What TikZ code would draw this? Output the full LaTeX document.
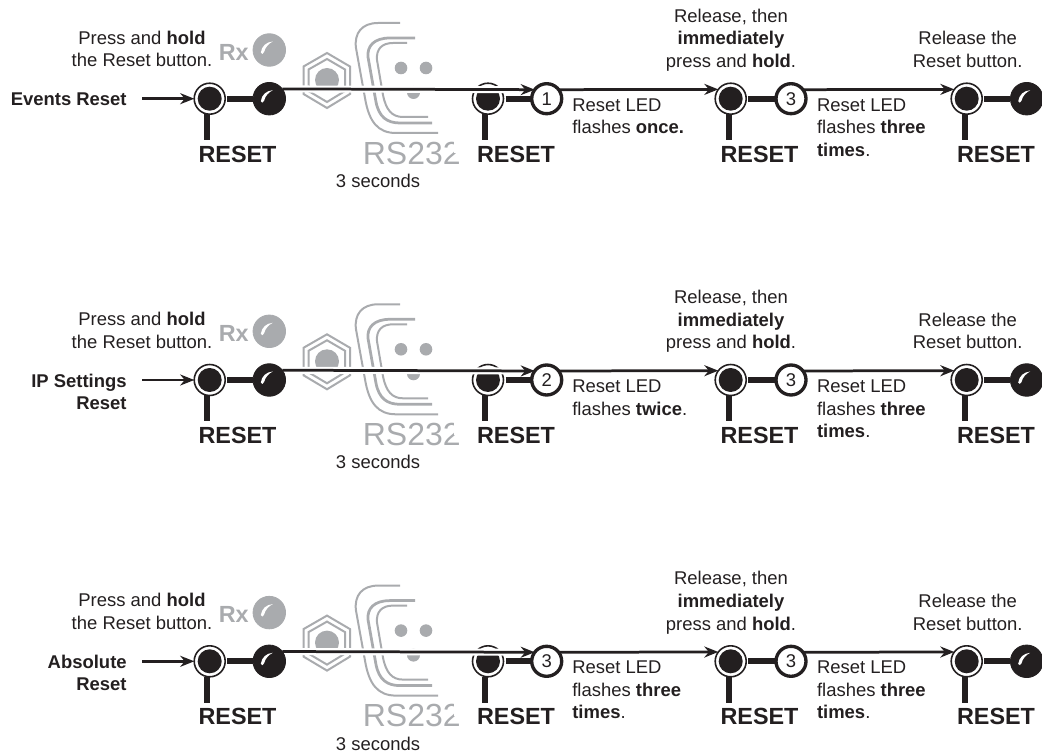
\documentclass[tikz,border=0pt]{standalone}
\usepackage{fontspec}
\setmainfont{Liberation Sans}
\usetikzlibrary{arrows.meta}
\definecolor{ink}{HTML}{231F20}
\definecolor{panelgrey}{HTML}{A9ABAE}
\tikzstyle{note}=[font=\fontsize{10.5}{12.9}\selectfont,text=ink,inner sep=0pt,align=center]
\tikzstyle{flash}=[note,align=left,anchor=north west]
\tikzstyle{mode}=[note,align=right,anchor=north east,font=\fontsize{10.5}{12.9}\selectfont\bfseries]
\tikzstyle{capt}=[font=\fontsize{13.3}{15}\selectfont\bfseries,text=ink,inner sep=0pt]
\tikzstyle{btn}=[circle,draw=ink,line width=0.9pt,fill=white,minimum size=0.62cm,inner sep=0pt,outer sep=0pt,
  path picture={\fill[ink] (path picture bounding box.center) circle (0.24cm);}]
\tikzstyle{lamp}=[circle,fill=#1,draw=#1,line width=0.5pt,minimum size=0.65cm,inner sep=0pt,outer sep=0pt,
  path picture={\fill[white,shift={(path picture bounding box.center)}] (-8.5,2.5) .. controls (-7.5,-4) and (-3,-8) .. (3.5,-8.5) .. controls (-0.5,-6.5) and (-4,-3) .. (-5.2,2) .. controls (-5.6,4.5) and (-8.2,4.5) .. (-8.5,2.5) -- cycle;}]
\tikzstyle{numb}=[circle,draw=ink,line width=1.9pt,fill=white,minimum size=0.6cm,inner sep=0pt,outer sep=0pt,
  font=\fontsize{10.5}{12.9}\selectfont,text=ink]
\tikzstyle{wire}=[ink,line width=0.12cm,shorten <=1.2pt]
\tikzstyle{flow}=[ink,line width=0.055cm,-{Stealth[length=0.28cm,width=0.22cm]}]
\tikzstyle{halo}=[white,line width=0.14cm,shorten <=4pt,shorten >=4pt]
\tikzstyle{faint}=[panelgrey,line width=0.04cm]
\newcommand{\rsplate}{
\fill[panelgrey] (327,80) circle (12);
\draw[faint] (327,53)--(350,66.5)--(350,94)--(327,108)--(303.5,94)--(303.5,66.5)--cycle;
\draw[faint] (327,59)--(345,69.5)--(345,91)--(327,102)--(308.5,91)--(308.5,69.5)--cycle;
\draw[faint] (400,23)--(378,23) .. controls (362,23) and (354,33) .. (356,48)--(365,98) .. controls (369,122) and (378,133) .. (396,133)--(438,133);
\draw[faint,line width=0.055cm] (415,38)--(390,38) .. controls (374,38) and (367,46) .. (368,57)--(376,102) .. controls (379,117) and (387,123) .. (400,123)--(432,123);
\draw[faint] (407,43)--(393,43) .. controls (382,43) and (376,49) .. (377,60)--(383,95) .. controls (386,110) and (392,117) .. (403,117)--(428,117);
\fill[panelgrey] (401,68) circle (6.3);
\fill[panelgrey] (426,68) circle (6.3);
\fill[panelgrey] (413.5,92.5) circle (6.5);
\begin{scope}
\clip (360,135)--(453,135)--(453,153)--(462,153)--(459,172)--(360,172)--cycle;
\node[font=\fontsize{18.2}{20}\selectfont,text=panelgrey,inner sep=0pt,anchor=west] (RS) at (362.5,153) {RS232};
\end{scope}
}

\begin{document}
\begin{tikzpicture}[x=0.02cm,y=-0.02cm]
\useasboundingbox (0,0) rectangle (1042,753);
% first row
\begin{scope}
\rsplate
\node[note] (Epress) at (142,49) {Press and \textbf{hold}\\the Reset button.};
\node[capt,text=panelgrey] (Erx) at (233.7,52) {Rx};
\node[lamp=panelgrey] (Egl) at (269.3,50) {};
\node[mode] (Emode) at (127,92) {Events Reset};
\coordinate (Ein) at (142,98.7);
\node[btn] (Eb1) at (209.7,98.7) {};
\node[lamp=ink] (El1) at (269.3,98.7) {};
\node[btn] (Eb2) at (488,98.7) {};
\node[numb] (En1) at (546.7,98.7) {1};
\node[btn] (Eb3) at (730.7,98.7) {};
\node[numb] (En2) at (791,98.7) {3};
\node[btn] (Eb4) at (966.7,98.7) {};
\node[lamp=ink] (El2) at (1026.7,98.7) {};
\coordinate (Es1) at (207,140);
\coordinate (Es2) at (485,140);
\coordinate (Es3) at (729,140);
\coordinate (Es4) at (965,140);
\node[capt] (Er1) at (237.5,154) {RESET};
\node[capt] (Er2) at (516,154) {RESET};
\node[capt] (Er3) at (759.5,154) {RESET};
\node[capt] (Er4) at (996,154) {RESET};
\node[note] (Esec) at (378,181) {3 seconds};
\node[flash] (Ef1) at (572,98) {Reset LED\\flashes \textbf{once.}};
\node[note] (Ere) at (731,40) {Release, then\\\textbf{immediately}\\press and \textbf{hold}.};
\node[flash] (Ef2) at (816.7,98) {Reset LED\\flashes \textbf{three}\\\textbf{times}.};
\node[note] (Erl) at (967.7,49.5) {Release the\\Reset button.};
\draw[halo](El1.37)--(En1.143);
\draw[wire](Eb1)--(El1);
\draw[wire](Eb2)--(En1);
\draw[wire](Eb3)--(En2);
\draw[wire](Eb4)--(El2);
\draw[wire,shorten <=0pt](Es1|-Eb1.south)--(Es1);
\draw[wire,shorten <=0pt](Es2|-Eb2.south)--(Es2);
\draw[wire,shorten <=0pt](Es3|-Eb3.south)--(Es3);
\draw[wire,shorten <=0pt](Es4|-Eb4.south)--(Es4);
\draw[flow](Ein)--(Eb1);
\draw[flow](El1.37)--(En1.143);
\draw[flow](En1.37)--(Eb3.143);
\draw[flow](En2.37)--(Eb4.143);
\end{scope}
% second row
\begin{scope}[shift={(0,281.3)}]
\rsplate
\node[note] (Ipress) at (142,49) {Press and \textbf{hold}\\the Reset button.};
\node[capt,text=panelgrey] (Irx) at (233.7,52) {Rx};
\node[lamp=panelgrey] (Igl) at (269.3,50) {};
\node[mode] (Imode) at (127,92) {IP Settings\\Reset};
\coordinate (Iin) at (142,98.7);
\node[btn] (Ib1) at (209.7,98.7) {};
\node[lamp=ink] (Il1) at (269.3,98.7) {};
\node[btn] (Ib2) at (488,98.7) {};
\node[numb] (In1) at (546.7,98.7) {2};
\node[btn] (Ib3) at (730.7,98.7) {};
\node[numb] (In2) at (791,98.7) {3};
\node[btn] (Ib4) at (966.7,98.7) {};
\node[lamp=ink] (Il2) at (1026.7,98.7) {};
\coordinate (Is1) at (207,140);
\coordinate (Is2) at (485,140);
\coordinate (Is3) at (729,140);
\coordinate (Is4) at (965,140);
\node[capt] (Ir1) at (237.5,154) {RESET};
\node[capt] (Ir2) at (516,154) {RESET};
\node[capt] (Ir3) at (759.5,154) {RESET};
\node[capt] (Ir4) at (996,154) {RESET};
\node[note] (Isec) at (378,181) {3 seconds};
\node[flash] (If1) at (572,98) {Reset LED\\flashes \textbf{twice}.};
\node[note] (Ire) at (731,40) {Release, then\\\textbf{immediately}\\press and \textbf{hold}.};
\node[flash] (If2) at (816.7,98) {Reset LED\\flashes \textbf{three}\\\textbf{times}.};
\node[note] (Irl) at (967.7,49.5) {Release the\\Reset button.};
\draw[halo](Il1.37)--(In1.143);
\draw[wire](Ib1)--(Il1);
\draw[wire](Ib2)--(In1);
\draw[wire](Ib3)--(In2);
\draw[wire](Ib4)--(Il2);
\draw[wire,shorten <=0pt](Is1|-Ib1.south)--(Is1);
\draw[wire,shorten <=0pt](Is2|-Ib2.south)--(Is2);
\draw[wire,shorten <=0pt](Is3|-Ib3.south)--(Is3);
\draw[wire,shorten <=0pt](Is4|-Ib4.south)--(Is4);
\draw[flow](Iin)--(Ib1);
\draw[flow](Il1.37)--(In1.143);
\draw[flow](In1.37)--(Ib3.143);
\draw[flow](In2.37)--(Ib4.143);
\end{scope}
% third row
\begin{scope}[shift={(0,562.6)}]
\rsplate
\node[note] (Apress) at (142,49) {Press and \textbf{hold}\\the Reset button.};
\node[capt,text=panelgrey] (Arx) at (233.7,52) {Rx};
\node[lamp=panelgrey] (Agl) at (269.3,50) {};
\node[mode] (Amode) at (127,92) {Absolute\\Reset};
\coordinate (Ain) at (142,98.7);
\node[btn] (Ab1) at (209.7,98.7) {};
\node[lamp=ink] (Al1) at (269.3,98.7) {};
\node[btn] (Ab2) at (488,98.7) {};
\node[numb] (An1) at (546.7,98.7) {3};
\node[btn] (Ab3) at (730.7,98.7) {};
\node[numb] (An2) at (791,98.7) {3};
\node[btn] (Ab4) at (966.7,98.7) {};
\node[lamp=ink] (Al2) at (1026.7,98.7) {};
\coordinate (As1) at (207,140);
\coordinate (As2) at (485,140);
\coordinate (As3) at (729,140);
\coordinate (As4) at (965,140);
\node[capt] (Ar1) at (237.5,154) {RESET};
\node[capt] (Ar2) at (516,154) {RESET};
\node[capt] (Ar3) at (759.5,154) {RESET};
\node[capt] (Ar4) at (996,154) {RESET};
\node[note] (Asec) at (378,181) {3 seconds};
\node[flash] (Af1) at (572,98) {Reset LED\\flashes \textbf{three}\\\textbf{times}.};
\node[note] (Are) at (731,40) {Release, then\\\textbf{immediately}\\press and \textbf{hold}.};
\node[flash] (Af2) at (816.7,98) {Reset LED\\flashes \textbf{three}\\\textbf{times}.};
\node[note] (Arl) at (967.7,49.5) {Release the\\Reset button.};
\draw[halo](Al1.37)--(An1.143);
\draw[wire](Ab1)--(Al1);
\draw[wire](Ab2)--(An1);
\draw[wire](Ab3)--(An2);
\draw[wire](Ab4)--(Al2);
\draw[wire,shorten <=0pt](As1|-Ab1.south)--(As1);
\draw[wire,shorten <=0pt](As2|-Ab2.south)--(As2);
\draw[wire,shorten <=0pt](As3|-Ab3.south)--(As3);
\draw[wire,shorten <=0pt](As4|-Ab4.south)--(As4);
\draw[flow](Ain)--(Ab1);
\draw[flow](Al1.37)--(An1.143);
\draw[flow](An1.37)--(Ab3.143);
\draw[flow](An2.37)--(Ab4.143);
\end{scope}
\end{tikzpicture}
\end{document}
